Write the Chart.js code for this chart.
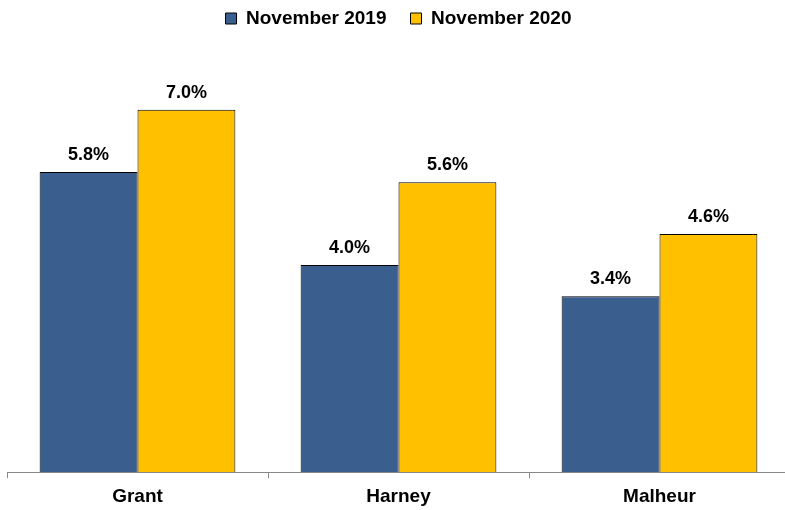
<!DOCTYPE html>
<html>
<head>
<meta charset="utf-8">
<script src="https://cdn.jsdelivr.net/npm/chart.js@4"></script>
<style>
  html, body { margin: 0; padding: 0; background: #fff; overflow: hidden; }
  #wrap { position: relative; top: -15px; width: 790px; height: 530px; }
</style>
</head>
<body>
<div id="wrap"><canvas id="chart"></canvas></div>
<script>
// Chart data
const counties = ['Grant', 'Harney', 'Malheur'];
const nov2019 = [5.8, 4.0, 3.4];
const nov2020 = [7.0, 5.6, 4.6];
const seriesNames = ['November 2019', 'November 2020'];

const FONT = '"Liberation Sans", Arial, sans-serif';

// Draw value labels above each bar
const valueLabels = {
    id: 'valueLabels',
    afterDatasetsDraw(chart) {
        const ctx = chart.ctx;
        ctx.save();
        ctx.font = 'bold 18px ' + FONT;
        ctx.fillStyle = '#000';
        ctx.textAlign = 'center';
        ctx.textBaseline = 'alphabetic';
        chart.data.datasets.forEach((ds, i) => {
            chart.getDatasetMeta(i).data.forEach((bar, j) => {
                ctx.fillText(ds.data[j].toFixed(1) + '%', bar.x, bar.y - 12);
            });
        });
        ctx.restore();
    }
};

// Give the legend a fixed height so the plot area starts lower
const legendHeight = {
    id: 'legendHeight',
    beforeInit(chart) {
        const fit = chart.legend.fit;
        chart.legend.fit = function () {
            fit.call(this);
            this.height = 73;
        };
    }
};

new Chart(document.getElementById('chart'), {
    type: 'bar',
    data: {
        labels: counties,
        datasets: [{
            label: seriesNames[0],
            data: nov2019,
            backgroundColor: '#3A5F8F',
            borderColor: '#000',
            borderWidth: 1,
            categoryPercentage: 0.75,
            barPercentage: 1.0
        }, {
            label: seriesNames[1],
            data: nov2020,
            backgroundColor: '#FFC000',
            borderColor: '#000',
            borderWidth: 1,
            categoryPercentage: 0.75,
            barPercentage: 1.0
        }]
    },
    options: {
        responsive: true,
        maintainAspectRatio: false,
        animation: false,
        layout: {
            padding: { left: 7, right: 0, top: 0, bottom: 0 }
        },
        plugins: {
            legend: {
                position: 'top',
                labels: {
                    boxWidth: 11,
                    boxHeight: 11,
                    padding: 24,
                    color: '#000',
                    font: { family: FONT, size: 19, weight: 'bold' }
                }
            },
            tooltip: { enabled: false }
        },
        scales: {
            x: {
                grid: {
                    offset: true,
                    drawOnChartArea: false,
                    drawTicks: true,
                    tickLength: 6,
                    color: '#888'
                },
                border: { display: true, color: '#888', width: 1 },
                ticks: {
                    color: '#000',
                    padding: 7,
                    font: { family: FONT, size: 19, weight: 'bold' }
                }
            },
            y: {
                display: false,
                min: 0,
                max: 8
            }
        }
    },
    plugins: [valueLabels, legendHeight]
});
</script>
</body>
</html>
